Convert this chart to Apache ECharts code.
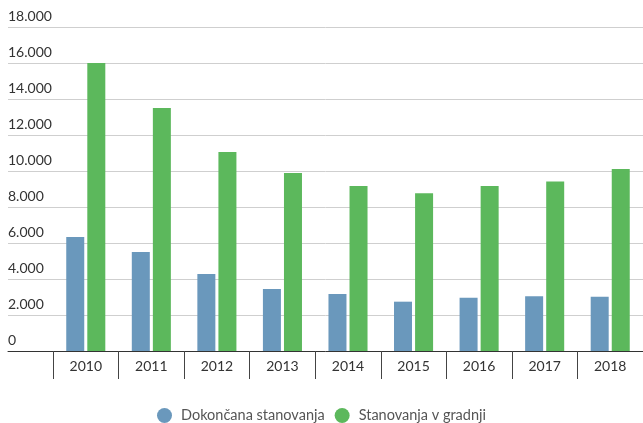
<!DOCTYPE html>
<html>
<head>
<meta charset="utf-8">
<script src="https://cdn.jsdelivr.net/npm/echarts@6/dist/echarts.min.js"></script>
<style>
  html, body { margin: 0; padding: 0; background: #fff; }
  #chart { width: 643px; height: 423px; }
</style>
</head>
<body>
<div id="chart"></div>
<script>
// data
const years = ['2010', '2011', '2012', '2013', '2014', '2015', '2016', '2017', '2018'];
const dokoncana = [6330, 5500, 4280, 3440, 3170, 2740, 2960, 3040, 3020];
const vGradnji = [16000, 13500, 11060, 9890, 9170, 8760, 9170, 9410, 10110];
const seriesNames = ['Dokončana stanovanja', 'Stanovanja v gradnji'];

const fontFam = 'Lato, "Open Sans", sans-serif';

function fmt(v) {
  return String(v).replace(/\B(?=(\d{3})+(?!\d))/g, '.');
}

const chart = echarts.init(document.getElementById('chart'));

let option = {
  backgroundColor: '#fff',
  animation: false,
  grid: [
    // background grid: gridlines + y labels + base line
    { left: 8, right: 0, top: 27, bottom: 72 },
    // bars + category axis
    { left: 53, width: 591, top: 27, bottom: 72 }
  ],
  xAxis: [
    {
      gridIndex: 0, type: 'value', min: 0, max: 1,
      axisLine: { show: true, onZero: false, lineStyle: { color: '#333', width: 1 } },
      axisTick: { show: false },
      axisLabel: { show: false },
      splitLine: { show: false }
    },
    {
      gridIndex: 1, type: 'category', data: years,
      axisLine: { show: false },
      axisTick: { show: true, length: 28, lineStyle: { color: '#444' } },
      axisLabel: { color: '#333', fontSize: 14, fontFamily: fontFam, margin: 8 }
    }
  ],
  yAxis: [
    {
      gridIndex: 0, type: 'value', min: 0, max: 18000, interval: 2000,
      axisLine: { show: false },
      axisTick: { show: false },
      splitLine: { lineStyle: { color: '#cfcfcf', width: 1 } },
      axisLabel: {
        inside: true, margin: 0, align: 'left', verticalAlign: 'bottom',
        padding: [0, 0, 4, 0],
        color: '#333', fontSize: 14, fontFamily: fontFam,
        formatter: fmt
      }
    },
    {
      gridIndex: 1, type: 'value', min: 0, max: 18000, show: false
    }
  ],
  legend: {
    top: 403,
    icon: 'circle',
    itemWidth: 15, itemHeight: 15, itemGap: 10,
    textStyle: { color: '#555', fontSize: 14.5, fontFamily: fontFam, padding: [0, 0, 0, 4] },
    data: seriesNames
  },
  series: [
    {
      name: seriesNames[0], type: 'bar', xAxisIndex: 1, yAxisIndex: 1,
      data: dokoncana, barWidth: 18, barGap: '17%',
      itemStyle: { color: '#6a98bc' }
    },
    {
      name: seriesNames[1], type: 'bar', xAxisIndex: 1, yAxisIndex: 1,
      data: vGradnji, barWidth: 18,
      itemStyle: { color: '#5cb85c' }
    }
  ]
};

chart.setOption(option);
</script>
</body>
</html>
